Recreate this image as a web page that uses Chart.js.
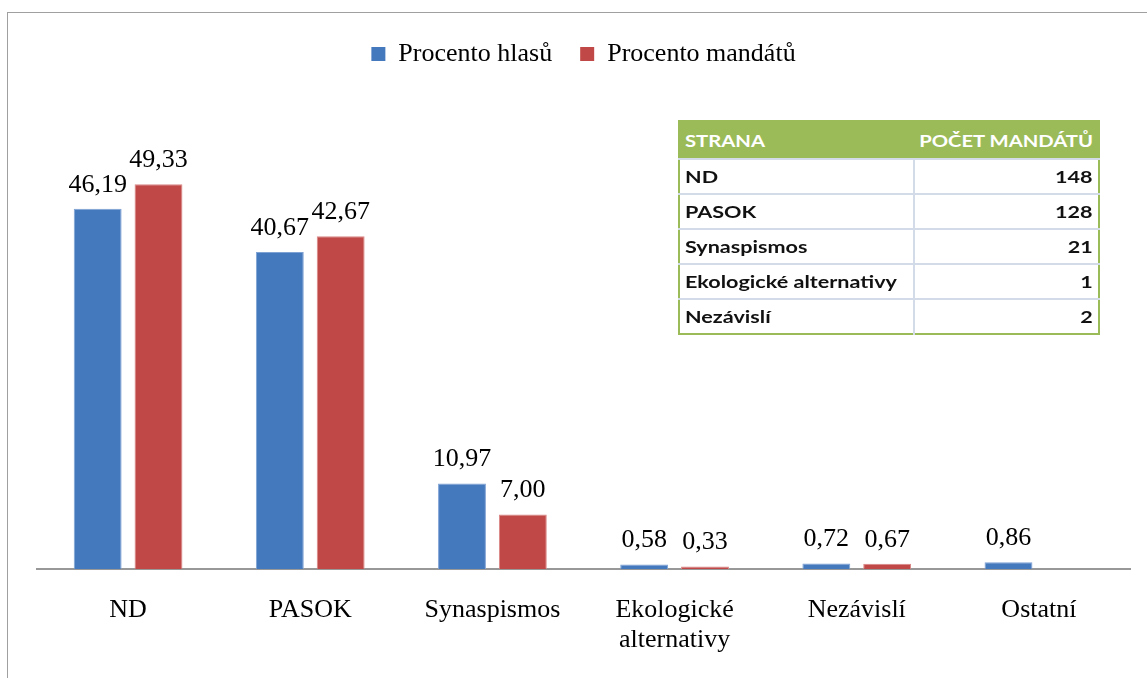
<!DOCTYPE html>
<html>
<head>
<meta charset="utf-8">
<script src="https://cdn.jsdelivr.net/npm/chart.js@4.4.1/dist/chart.umd.min.js"></script>
<style>
  html, body { margin: 0; padding: 0; background: #fff; overflow: hidden; width: 1147px; height: 678px; }
  #frame { position: absolute; left: 7px; top: 12px; width: 1160px; height: 680px; border: 1px solid #a0a0a0; }
  #frame canvas { position: absolute; left: 0; top: 0; }
  #seats { position: absolute; left: 678px; top: 120px; width: 422px; border-collapse: collapse;
    border: 2px solid #9bbb59; font-family: Lato, "Open Sans", sans-serif; font-weight: bold; font-size: 17px; }
  #seats th { background: #9bbb59; color: #fff; height: 36px; padding: 0 5px; text-align: left; }
  #seats th.num, #seats td.num { text-align: right; }
  #seats td { height: 33px; padding: 0 5px; color: #111; border-top: 2px solid #d3dbe9; }
  #seats td.num { border-left: 2px solid #d3dbe9; }
  #seats .c1 { width: 223px; }
  #seats span { display: inline-block; transform: scaleX(1.27); transform-origin: left center; }
  #seats th span { transform: scaleX(1.19); }
  #seats .num span { transform-origin: right center; }
</style>
</head>
<body>
<div id="frame"><canvas id="c" width="1160" height="666"></canvas></div>
<table id="seats"></table>
<script>
const categories = ['ND', 'PASOK', 'Synaspismos', ['Ekologické', 'alternativy'], 'Nezávislí', 'Ostatní'];
const votesPct = [46.19, 40.67, 10.97, 0.58, 0.72, 0.86];
const seatsPct = [49.33, 42.67, 7.00, 0.33, 0.67, null];
const seriesNames = ['Procento hlasů', 'Procento mandátů'];

const tableHead = ['STRANA', 'POČET MANDÁTŮ'];
const tableParties = ['ND', 'PASOK', 'Synaspismos', 'Ekologické alternativy', 'Nezávislí'];
const tableSeats = [148, 128, 21, 1, 2];

// seat table
const tbl = document.getElementById('seats');
let html = '<tr><th class="c1"><span>' + tableHead[0] + '</span></th><th class="num"><span>' + tableHead[1] + '</span></th></tr>';
tableParties.forEach((p, i) => {
  html += '<tr><td class="c1"><span>' + p + '</span></td><td class="num"><span>' + tableSeats[i] + '</span></td></tr>';
});
tbl.innerHTML = html;

const SERIF = '"Liberation Serif", "Times New Roman", serif';

const valueLabels = {
  id: 'valueLabels',
  afterDatasetsDraw(chart) {
    const c = chart.ctx;
    c.save();
    c.font = '26px ' + SERIF;
    c.fillStyle = '#000';
    c.textAlign = 'center';
    c.textBaseline = 'alphabetic';
    chart.data.datasets.forEach((ds, di) => {
      const meta = chart.getDatasetMeta(di);
      meta.data.forEach((bar, i) => {
        const v = ds.data[i];
        if (v === null || v === undefined) return;
        c.fillText(v.toFixed(2).replace('.', ','), bar.x, bar.y - 17);
      });
    });
    c.restore();
  }
};

new Chart(document.getElementById('c'), {
  type: 'bar',
  data: {
    labels: categories,
    datasets: [
      {
        label: seriesNames[0],
        data: votesPct,
        backgroundColor: '#4579bd',
        borderColor: '#7ea2d4',
        borderWidth: 1,
        categoryPercentage: 0.668,
        barPercentage: 0.787,
      },
      {
        label: seriesNames[1],
        data: seatsPct,
        backgroundColor: '#c04846',
        borderColor: '#d98785',
        borderWidth: 1,
        categoryPercentage: 0.668,
        barPercentage: 0.787,
      }
    ]
  },
  plugins: [valueLabels],
  options: {
    responsive: false,
    animation: false,
    devicePixelRatio: 1,
    layout: { padding: { left: 29, right: 38, top: 0, bottom: 0 } },
    plugins: {
      legend: {
        position: 'top',
        labels: {
          boxWidth: 14,
          boxHeight: 14,
          color: '#000',
          padding: 28,
          font: { family: SERIF, size: 26 },
          generateLabels(chart) {
            return chart.data.datasets.map((ds, i) => ({
              text: ds.label,
              fillStyle: ds.backgroundColor,
              strokeStyle: ds.backgroundColor,
              lineWidth: 0,
              datasetIndex: i,
              fontColor: '#000',
            }));
          }
        }
      },
      tooltip: { enabled: false },
    },
    scales: {
      x: {
        grid: { display: false, drawTicks: false },
        border: { display: true, color: '#989898', width: 2 },
        ticks: {
          color: '#000',
          padding: 26,
          maxRotation: 0,
          autoSkip: false,
          font: { family: SERIF, size: 26, lineHeight: 1.15 },
        },
        afterFit(scale) { scale.height = 110; },
      },
      y: {
        display: false,
        min: 0,
        max: 63.1,
      }
    }
  }
});
</script>
</body>
</html>
